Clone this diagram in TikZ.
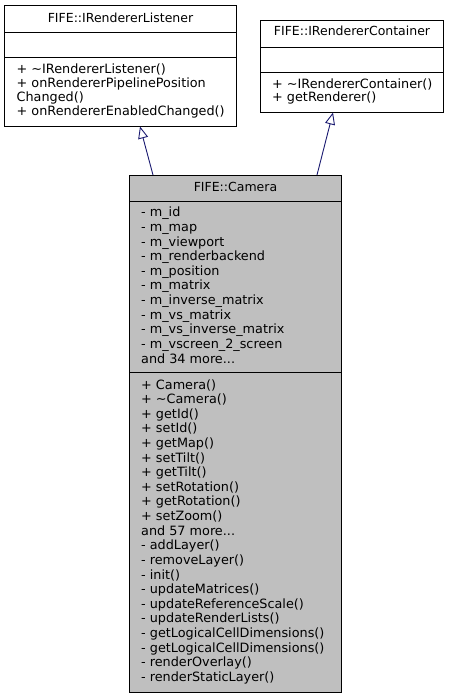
\documentclass[tikz,border=0pt]{standalone}
\usepackage{fontspec}
\setmainfont{DejaVu Sans}
\usetikzlibrary{arrows.meta}
\definecolor{edgeblue}{HTML}{191970}
\definecolor{classgray}{HTML}{BFBFBF}
\newcommand\mythreedots{...}
\tikzset{
  classbox/.style={draw=black, line width=0.9pt, anchor=north west, inner sep=0pt, outer sep=0pt},
  sepline/.style={draw=black, line width=0.9pt},
  txt/.style={anchor=base west, inner sep=0pt, font=\fontsize{12.8}{14}\selectfont},
  ttl/.style={anchor=base, inner sep=0pt, font=\fontsize{12.5}{14}\selectfont},
  inherit/.style={draw=edgeblue, line width=0.9pt, -{Triangle[open, length=12pt, width=10pt, fill=white]}}
}
\begin{document}
\begin{tikzpicture}[x=1pt,y=-1pt]
\useasboundingbox (0,0) rectangle (448,697);
% IRendererListener
\node[classbox, minimum width=232pt, minimum height=121pt] (listener) at (4.5,5) {};
\draw[sepline] (4.5,32) -- (236.5,32);
\draw[sepline] (4.5,57.5) -- (236.5,57.5);
\node[ttl] (listenerT) at (120.5,22) {FIFE::IRendererListener};
\node[txt] (l1) at (16.5,73) {+ \textasciitilde IRendererListener()};
\node[txt] (l2) at (16.5,87.3) {+ onRendererPipelinePosition};
\node[txt] (l3) at (16.5,101.3) {Changed()};
\node[txt] (l4) at (16.5,115.3) {+ onRendererEnabledChanged()};
% IRendererContainer
\node[classbox, minimum width=183pt, minimum height=92pt] (container) at (260.5,20) {};
\draw[sepline] (260.5,47) -- (443.5,47);
\draw[sepline] (260.5,72.5) -- (443.5,72.5);
\node[ttl] (containerT) at (352,35.5) {FIFE::IRendererContainer};
\node[txt] (c1) at (272,88) {+ \textasciitilde IRendererContainer()};
\node[txt] (c2) at (272,101.5) {+ getRenderer()};
% Camera
\node[classbox, fill=classgray, minimum width=212pt, minimum height=517pt] (camera) at (129.5,175) {};
\draw[sepline] (129.5,201) -- (341.5,201);
\draw[sepline] (129.5,372) -- (341.5,372);
\node[ttl] (cameraT) at (235.5,191) {FIFE::Camera};
\foreach \t [count=\i from 0] in {- m\_id, - m\_map, - m\_viewport, - m\_renderbackend, - m\_position, - m\_matrix, - m\_inverse\_matrix, - m\_vs\_matrix, - m\_vs\_inverse\_matrix, - m\_vscreen\_2\_screen, and 34 more\mythreedots}
  \node[txt] (ca\i) at (141,216.7+14.65*\i) {\t};
\foreach \t [count=\i from 0] in {+ Camera(), + \textasciitilde Camera(), + getId(), + setId(), + getMap(), + setTilt(), + getTilt(), + setRotation(), + getRotation(), + setZoom(), and 57 more\mythreedots, - addLayer(), - removeLayer(), - init(), - updateMatrices(), - updateReferenceScale(), - updateRenderLists(), - getLogicalCellDimensions(), - getLogicalCellDimensions(), - renderOverlay(), - renderStaticLayer()}
  \node[txt] (cm\i) at (141,389+14.62*\i) {\t};
% inheritance
\coordinate (fromL) at (153,175);
\coordinate (toL) at (140,126.5);
\coordinate (fromC) at (317,175);
\coordinate (toC) at (333,112.5);
\draw[inherit] (fromL) -- (toL);
\draw[inherit] (fromC) -- (toC);
\end{tikzpicture}
\end{document}
